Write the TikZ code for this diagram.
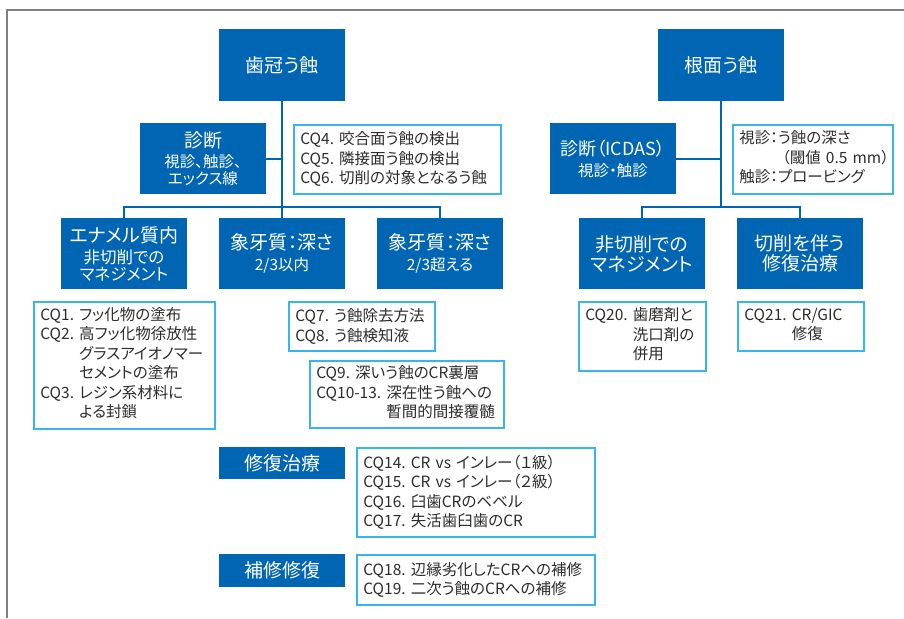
\documentclass[tikz,border=0pt]{standalone}
\usepackage{fontspec}
\setmainfont[RawFeature=+palt]{Noto Sans CJK JP}
\definecolor{myblue}{RGB}{0,102,179}
\definecolor{mylight}{RGB}{56,182,232}
\definecolor{mytext}{RGB}{45,45,45}
\definecolor{myframe}{RGB}{128,128,128}
\newcommand{\bxl}{\fontsize{19}{20}\selectfont}
\newcommand{\bxm}{\fontsize{18}{20}\selectfont}
\newcommand{\bxs}{\fontsize{15.5}{17}\selectfont}
\newcommand{\bxe}{\fontsize{16.5}{17}\selectfont}
\frenchspacing
\begin{document}
\begin{tikzpicture}[x=1pt,y=-1pt,
  bbox/.style={fill=myblue, text=white, inner sep=0pt, align=center,
    minimum width=126pt, minimum height=71pt, font=\bxs},
  cbox/.style={draw=mylight, line width=1.5pt, fill=white, text=mytext,
    inner ysep=0pt, inner xsep=6.5pt, align=left, anchor=north west,
    font=\fontsize{15.5}{19.5}\selectfont},
  conn/.style={draw=myblue, line width=2pt},
  frameline/.style={draw=myframe, line width=1.2pt}]
\useasboundingbox (0,0) rectangle (904,618);
\draw[frameline] (7,618) -- (7,10) -- (904,10);

% ---- left tree ----
\node[bbox, font=\bxl] (crown) at (282,65) {歯冠う蝕};
\node[bbox] (diagL) at (203,158.5) {{\bxl 診断}\\[3pt]視診、触診、\\エックス線};
\node[bbox, font=\bxe] (enamel) at (124,253.5) {{\bxl エナメル質内}\\[4pt]非切削での\\マネジメント};
\node[bbox] (dentin1) at (282,253.5) {{\bxl 象牙質：深さ}\\[4pt]2/3以内};
\node[bbox] (dentin2) at (440,253.5) {{\bxl 象牙質：深さ}\\[4pt]2/3超える};
\node[bbox, font=\bxl, minimum height=32pt] (rest) at (282,463) {修復治療};
\node[bbox, font=\bxl, minimum height=33pt] (repair) at (282,570.5) {補修修復};

% ---- right tree ----
\node[bbox, font=\bxl] (root) at (721,65) {根面う蝕};
\node[bbox] (diagR) at (613,158.5) {{\bxm 診断（ICDAS）}\\[4pt]視診・触診};
\node[bbox, font=\bxl] (nonc) at (642,253.5) {非切削での\\マネジメント};
\node[bbox, font=\bxl] (cut) at (800,253.5) {切削を伴う\\修復治療};

% ---- CQ boxes ----
\node[cbox, text width=194pt, minimum height=69pt] (cq4) at (293,124)
  {CQ4. 咬合面う蝕の検出\\CQ5. 隣接面う蝕の検出\\CQ6. 切削の対象となるう蝕};
\node[cbox, text width=147pt, minimum height=69pt] (cqr) at (732,124)
  {\begin{tabular}{@{}l@{}l@{}}
   視診：&う蝕の深さ\\
   &\hspace{4pt}（閾値 0.5 mm）\\
   触診：&プロービング
   \end{tabular}};
\node[cbox, text width=168pt, minimum height=127pt] (cq1) at (33,301)
  {\begin{tabular}{@{}l@{\ }l@{}}
   CQ1.&フッ化物の塗布\\
   CQ2.&高フッ化物徐放性\\
   &グラスアイオノマー\\
   &セメントの塗布\\
   CQ3.&レジン系材料に\\
   &よる封鎖
   \end{tabular}};
\node[cbox, text width=133pt, minimum height=49pt] (cq7) at (288,301)
  {CQ7. う蝕除去方法\\CQ8. う蝕検知液};
\node[cbox, text width=181pt, minimum height=67pt] (cq9) at (309,360)
  {\begin{tabular}{@{}l@{\ }l@{}}
   \multicolumn{2}{@{}l@{}}{CQ9. 深いう蝕のCR裏層}\\
   CQ10-13.&深在性う蝕への\\
   &暫間的間接覆髄
   \end{tabular}};
\node[cbox, text width=114pt, minimum height=69pt] (cq20) at (578,301)
  {\begin{tabular}{@{}l@{\ }l@{}}
   CQ20.&歯磨剤と\\
   &洗口剤の\\
   &併用
   \end{tabular}};
\node[cbox, text width=113pt, minimum height=49pt] (cq21) at (737,301)
  {\begin{tabular}{@{}l@{\ }l@{}}
   CQ21.&CR/GIC\\
   &修復
   \end{tabular}};
\node[cbox, text width=225pt, minimum height=89pt] (cq14) at (356,447)
  {CQ14. CR vs インレー（１級）\\CQ15. CR vs インレー（２級）\\CQ16. 臼歯CRのベベル\\CQ17. 失活歯臼歯のCR};
\node[cbox, text width=225pt, minimum height=50pt] (cq18) at (356,554)
  {CQ18. 辺縁劣化したCRへの補修\\CQ19. 二次う蝕のCRへの補修};

% ---- connectors ----
\coordinate (bl) at (282,207);
\coordinate (br) at (721,207);
\draw[conn] (crown.south) -- (dentin1.north);
\draw[conn] (diagL.east) -- (diagL.east -| crown.south);
\draw[conn] (enamel.north) |- (bl) -| (dentin2.north);
\draw[conn] (root.south) -- (br);
\draw[conn] (diagR.east) -- (diagR.east -| root.south);
\draw[conn] (nonc.north) |- (br) -| (cut.north);
\end{tikzpicture}
\end{document}
